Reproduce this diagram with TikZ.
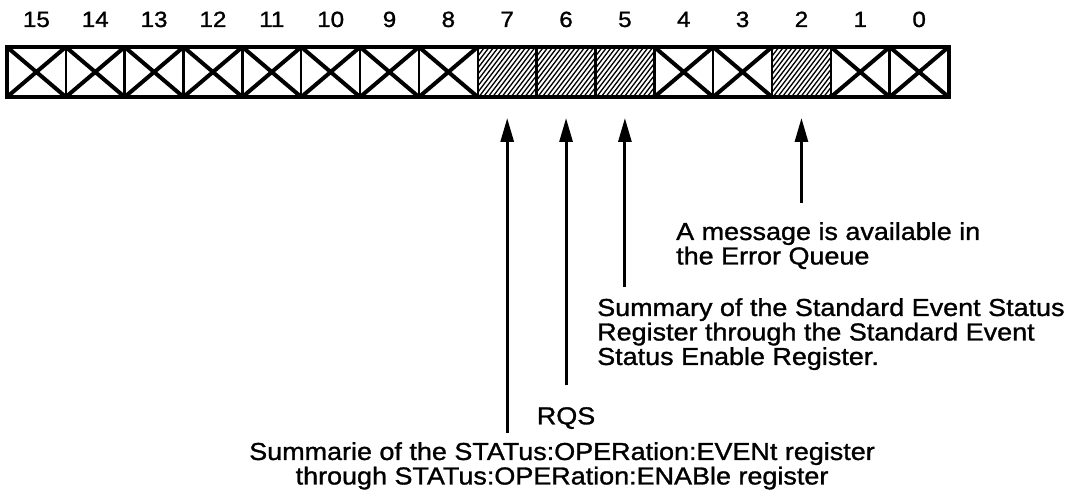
\documentclass[tikz,border=0pt]{standalone}
\usepackage{fontspec}
\setmainfont{Liberation Sans}[FakeStretch=1.1, FakeBold=1.2]
\usetikzlibrary{arrows.meta, positioning}

\begin{document}
\begin{tikzpicture}[
  x=1pt, y=-1pt,
  font=\fontsize{24.5}{24.5}\selectfont,
  cell/.style    = {draw, line width=2.5pt, minimum width=58.85pt, minimum height=50pt,
                    inner sep=0pt, outer sep=0pt},
  crossed/.style = {cell, path picture={
                    \draw[line width=4pt]
                      (path picture bounding box.south west) -- (path picture bounding box.north east)
                      (path picture bounding box.north west) -- (path picture bounding box.south east);}},
  hatched/.style = {cell, path picture={
                    \foreach \k in {0,...,24}
                      \draw[line width=1.3pt]
                        ([xshift=\k*4.6pt-45pt]path picture bounding box.south west) -- ++(42pt,55pt);}},
  frame/.style   = {draw, line width=4pt},
  num/.style     = {font=\fontsize{22}{22}\selectfont, inner sep=0pt},
  ptr/.style     = {-{Triangle[length=24pt, width=13pt]}, line width=3pt, shorten >=21pt},
  note/.style    = {inner sep=0pt, align=left},
]
\useasboundingbox (0,0) rectangle (1081,497);

% ---- the register, bit 15 on the left
\foreach \i/\kind [count=\c from 0] in {15/crossed, 14/crossed, 13/crossed, 12/crossed,
    11/crossed, 10/crossed, 9/crossed, 8/crossed, 7/hatched, 6/hatched, 5/hatched,
    4/crossed, 3/crossed, 2/hatched, 1/crossed, 0/crossed}
{
  \node[\kind] (b\i) at ({36.4+58.85*\c}, 72) {};
  \node[num, above=20pt of b\i.north, anchor=base] (n\i) {\i};
}
\draw[frame] (b15.north west) rectangle (b0.south east);

% ---- lower ends of the pointers
\coordinate (t7) at (b7 |- 0,433);
\coordinate (t6) at (b6 |- 0,385);
\coordinate (t5) at (b5 |- 0,287);
\coordinate (t2) at (b2 |- 0,203);

\draw[ptr] (t7) -- (b7);
\draw[ptr] (t6) -- (b6);
\draw[ptr] (t5) -- (b5);
\draw[ptr] (t2) -- (b2);

% ---- what the bits mean
\node[note, anchor=north west] (errq) at (676,222)
     {A message is available in\\the Error Queue};
\node[note, anchor=north west] (esb) at (597,298)
     {Summary of the Standard Event Status\\Register through the Standard Event\\Status Enable Register.};
\node[note, below=22pt of t6] (rqs) {RQS};
\node[note, align=center, anchor=north] (oper) at (562,442)
     {Summarie of the STATus:OPERation:EVENt register\\through STATus:OPERation:ENABle register};

\end{tikzpicture}
\end{document}
